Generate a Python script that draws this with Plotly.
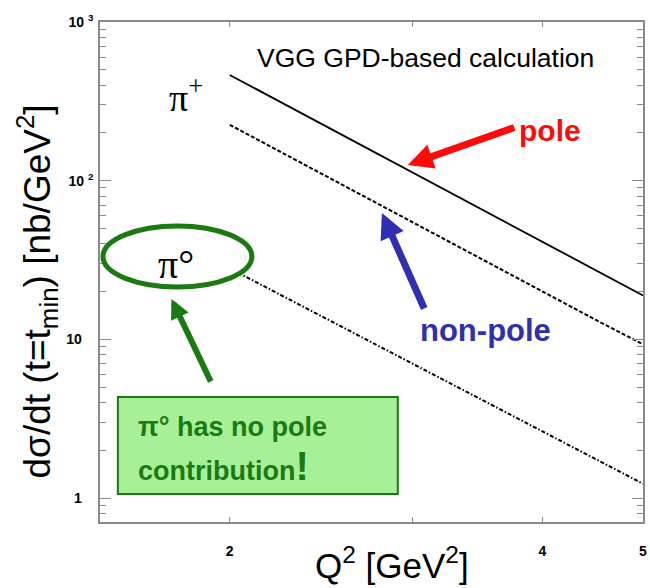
import plotly.graph_objects as go

# ---- data ----
q2 = [2.0, 2.5, 3.0, 3.5, 4.0, 4.5, 5.0]
pole_pip = [464, 213, 113, 66, 41.3, 27.5, 18.9]        # pi+ full (solid)
nonpole_pip = [225, 103, 54.6, 31.9, 20.0, 13.3, 9.3]   # pi+ non-pole (dashed)
pi0 = [28, 13.1, 7.0, 4.15, 2.64, 1.76, 1.23]           # pi0 (dash-dot)

x_tickvals = [2, 3, 4, 5]
x_ticktext = ["2", "", "4", "5"]
y_tickvals = [1, 10, 100, 1000]
y_ticktext = ["1\u00a0\u00a0\u00a0", "10\u00a0\u00a0\u00a0", "10 <sup>2</sup>", "10 <sup>3</sup>"]
y_minor = [0.8, 0.9] + [m * d for d in (1, 10, 100) for m in range(2, 10)]

W, H = 650, 588
L, R, T, B = 100, 3, 22, 66
PW, PH = W - L - R, H - T - B

def px(x):
    return (x - L) / PW

def py(y):
    return (H - B - y) / PH

fig = go.Figure()
fig.add_trace(go.Scatter(x=q2, y=pole_pip, mode="lines",
                         line=dict(color="black", width=1.8), showlegend=False))
fig.add_trace(go.Scatter(x=q2, y=nonpole_pip, mode="lines",
                         line=dict(color="black", width=2, dash="4px,2px"), showlegend=False))
fig.add_trace(go.Scatter(x=q2, y=pi0, mode="lines",
                         line=dict(color="black", width=2, dash="4px,2px,1.5px,2px"), showlegend=False))

GREEN = "#1b7a12"
P = dict(xref="paper", yref="paper", xanchor="center", yanchor="middle")
PL = dict(xref="paper", yref="paper", xanchor="left", yanchor="middle")
A = dict(xref="paper", yref="paper")
annotations = [
    dict(**P, x=px(428), y=py(58), text="VGG GPD-based calculation", showarrow=False,
         font=dict(family="Liberation Sans, Arial", size=26.5, color="black")),
    dict(**P, x=px(187), y=py(95), text="π<sup>+</sup>", showarrow=False,
         font=dict(family="Liberation Serif, Times New Roman", size=38, color="black")),
    dict(**P, x=px(177), y=py(264), text="π°", showarrow=False,
         font=dict(family="Liberation Serif, Times New Roman", size=40, color="black")),
    dict(**P, x=px(553), y=py(130), text="<b>pole</b>", showarrow=False,
         font=dict(family="Liberation Sans, Arial", size=30, color="#ff0a0a")),
    dict(**P, x=px(488), y=py(330), text="<b>non-pole</b>", showarrow=False,
         font=dict(family="Liberation Sans, Arial", size=31, color="#2f2fb5")),
    # arrows
    dict(**A, x=px(410), y=py(165), ax=108, ay=-38, text="", showarrow=True,
         arrowhead=2, arrowsize=0.72, arrowwidth=7, arrowcolor="#ff0a0a"),
    dict(**A, x=px(384), y=py(213), ax=43, ay=97, text="", showarrow=True,
         arrowhead=2, arrowsize=0.72, arrowwidth=7, arrowcolor="#2f2fb5"),
    dict(**A, x=px(172), y=py(299), ax=40, ay=84, text="", showarrow=True,
         arrowhead=2, arrowsize=0.65, arrowwidth=6, arrowcolor=GREEN),
    # box text
    dict(**PL, x=px(136), y=py(427), text="<b>π° has no pole</b>", showarrow=False,
         font=dict(family="Liberation Sans, Arial", size=27, color=GREEN)),
    dict(**PL, x=px(136), y=py(466), text="<b>contribution</b><b><span style='font-size:40px'>!</span></b>",
         showarrow=False,
         font=dict(family="Liberation Sans, Arial", size=27, color=GREEN)),
    # axis titles
    dict(**P, x=px(394), y=py(563), text="Q<sup>2</sup> [GeV<sup>2</sup>]", showarrow=False,
         font=dict(family="Liberation Sans, Arial", size=35, color="black")),
    dict(**P, x=px(36), y=py(291), text="dσ/dt (t=t<sub>min</sub>) [nb/GeV<sup>2</sup>]",
         showarrow=False, textangle=-90,
         font=dict(family="Liberation Sans, Arial", size=37, color="black")),
]

shapes = [
    dict(type="rect", xref="paper", yref="paper", x0=px(118), x1=px(400), y0=py(494), y1=py(397),
         fillcolor="#a8f098", line=dict(color=GREEN, width=2), layer="above"),
    dict(type="circle", xref="paper", yref="paper", x0=px(103), x1=px(253), y0=py(287), y1=py(226),
         fillcolor="white", line=dict(color=GREEN, width=5), layer="above"),
]

fig.update_layout(
    width=W, height=H,
    margin=dict(l=L, r=R, t=T, b=B),
    paper_bgcolor="white", plot_bgcolor="white",
    annotations=annotations, shapes=shapes,
    xaxis=dict(type="log", range=[0.17609, 0.69897], tickmode="array",
               tickvals=x_tickvals, ticktext=x_ticktext, ticks="inside", ticklen=5,
               tickcolor="#888", tickwidth=1.2, showgrid=False, zeroline=False,
               showline=True, linecolor="#8a8a8a", linewidth=1.5, mirror="allticks",
               ticklabelstandoff=15,
               tickfont=dict(family="Liberation Sans, Arial", size=14, color="black", weight="bold")),
    yaxis=dict(type="log", range=[-0.151, 3.0], tickmode="array",
               tickvals=y_tickvals, ticktext=y_ticktext, ticks="inside", ticklen=11,
               tickcolor="#888", tickwidth=1.2, showgrid=False, zeroline=False,
               showline=True, linecolor="#8a8a8a", linewidth=1.5, mirror="allticks",
               minor=dict(tickvals=y_minor, ticks="inside", ticklen=6, tickcolor="#888", tickwidth=1.2),
               ticklabelstandoff=2,
               tickfont=dict(family="Liberation Sans, Arial", size=14, color="black", weight="bold")),
)

fig.write_html("out.html")
